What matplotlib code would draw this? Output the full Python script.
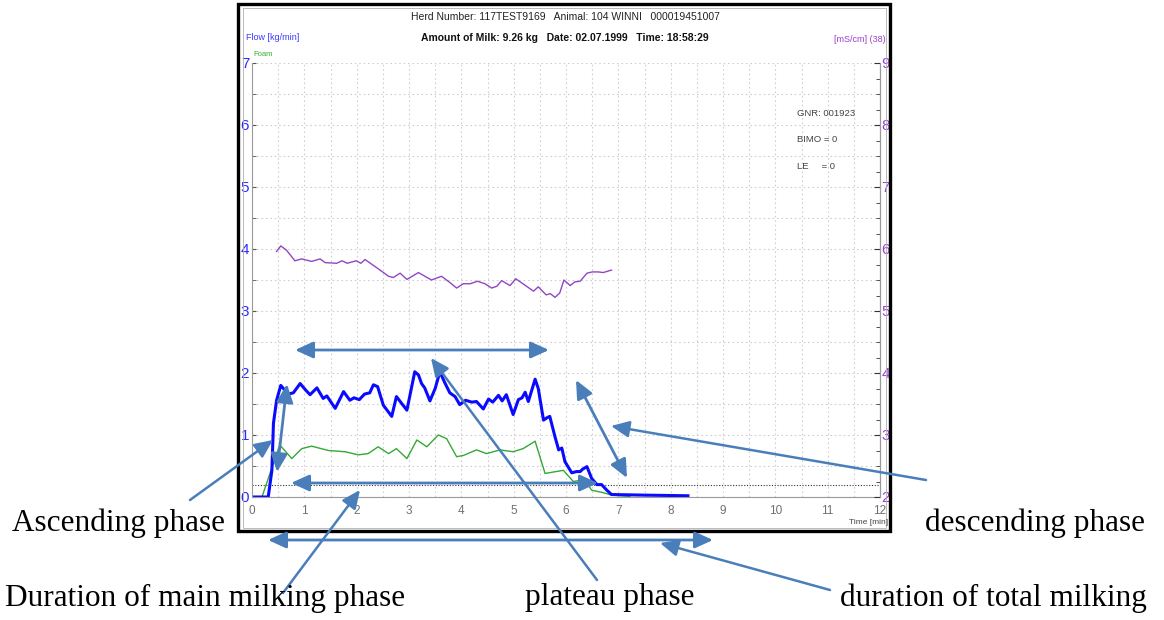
import matplotlib
matplotlib.use('Agg')
import matplotlib.pyplot as plt
from matplotlib.patches import FancyArrowPatch, Rectangle
from matplotlib import font_manager
import numpy as np

# --- data ---
flow_t = [0, 0.31, 0.38, 0.41, 0.47, 0.55, 0.63, 0.69, 0.79, 0.92, 1.03, 1.11, 1.24, 1.36, 1.43,
          1.59, 1.75, 1.87, 1.95, 2.05, 2.15, 2.25, 2.32, 2.40, 2.51, 2.67, 2.76, 2.85, 2.96,
          3.11, 3.18, 3.24, 3.30, 3.40, 3.50, 3.59, 3.68, 3.78, 3.88, 3.97, 4.08, 4.20, 4.29,
          4.42, 4.52, 4.60, 4.71, 4.78, 4.86, 4.99, 5.09, 5.16, 5.22, 5.28, 5.41, 5.47, 5.57,
          5.64, 5.69, 5.79, 5.86, 5.92, 5.98, 6.11, 6.20, 6.27, 6.32, 6.40, 6.49, 6.59, 6.68,
          6.78, 6.87, 7.5, 8.33]
flow_v = [0, 0, 0.43, 1.19, 1.56, 1.80, 1.72, 1.66, 1.68, 1.83, 1.72, 1.65, 1.76, 1.59, 1.63,
          1.43, 1.70, 1.56, 1.60, 1.57, 1.66, 1.68, 1.81, 1.78, 1.48, 1.30, 1.62, 1.52, 1.40,
          2.02, 1.97, 1.83, 1.76, 1.55, 1.75, 2.02, 1.85, 1.68, 1.62, 1.49, 1.56, 1.53, 1.54,
          1.42, 1.58, 1.53, 1.64, 1.55, 1.65, 1.33, 1.57, 1.60, 1.69, 1.54, 1.90, 1.75, 1.24,
          1.28, 1.30, 0.97, 0.76, 0.79, 0.57, 0.39, 0.41, 0.41, 0.45, 0.49, 0.30, 0.20, 0.20,
          0.11, 0.04, 0.03, 0.02]

foam_t = [0.19, 0.53, 0.76, 0.95, 1.14, 1.46, 1.78, 2.03, 2.22, 2.41, 2.61, 2.76, 2.96, 3.15,
          3.34, 3.56, 3.72, 3.91, 4.04, 4.29, 4.48, 4.74, 4.99, 5.18, 5.41, 5.60, 5.95, 6.14,
          6.35, 6.49, 6.71, 6.87, 7.22]
foam_v = [0, 0.84, 0.62, 0.78, 0.82, 0.75, 0.73, 0.68, 0.70, 0.81, 0.70, 0.78, 0.62, 0.92,
          0.81, 1.00, 0.94, 0.65, 0.67, 0.76, 0.70, 0.76, 0.73, 0.78, 0.90, 0.38, 0.43, 0.25,
          0.28, 0.11, 0.07, 0.03, 0.01]

cond_t = [0.47, 0.55, 0.66, 0.82, 0.95, 1.14, 1.30, 1.40, 1.62, 1.72, 1.82, 1.99, 2.08, 2.16,
          2.38, 2.61, 2.70, 2.83, 2.96, 3.18, 3.43, 3.62, 3.78, 3.91, 4.04, 4.17, 4.31, 4.45,
          4.58, 4.68, 4.77, 4.93, 5.04, 5.21, 5.38, 5.47, 5.62, 5.70, 5.79, 5.88, 5.96, 6.08,
          6.17, 6.27, 6.40, 6.50, 6.62, 6.71, 6.87]
cond_v = [5.96, 6.05, 5.98, 5.81, 5.84, 5.80, 5.84, 5.78, 5.77, 5.81, 5.77, 5.81, 5.77, 5.83,
          5.70, 5.56, 5.54, 5.61, 5.51, 5.62, 5.50, 5.56, 5.46, 5.37, 5.44, 5.44, 5.48, 5.44,
          5.37, 5.40, 5.49, 5.41, 5.52, 5.42, 5.32, 5.39, 5.26, 5.28, 5.22, 5.29, 5.50, 5.41,
          5.47, 5.48, 5.61, 5.63, 5.63, 5.62, 5.66]

threshold = 0.2
x_ticks = list(range(0, 13))
y_ticks = list(range(0, 8))
y2_ticks = list(range(2, 10))

header1 = "Herd Number: 117TEST9169   Animal: 104 WINNI   000019451007"
header2 = "Amount of Milk: 9.26 kg   Date: 02.07.1999   Time: 18:58:29"
info_lines = ["GNR: 001923", "BIMO = 0", "LE     = 0"]

# --- fonts ---
names = {f.name for f in font_manager.fontManager.ttflist}
narrow = 'Liberation Sans Narrow' if 'Liberation Sans Narrow' in names else 'Liberation Sans'
serif = 'Liberation Serif'

W, H = 1164, 620
fig = plt.figure(figsize=(W / 100, H / 100), dpi=100)


def fx(px):
    return px / W


def fy(py):
    return 1 - py / H


# outer frame of the screenshot
fig.add_artist(Rectangle((fx(238), fy(531)), fx(890) - fx(238), fy(4) - fy(531),
                         transform=fig.transFigure, fill=False, lw=2.4, ec='black'))
fig.add_artist(Rectangle((fx(243), fy(528)), fx(886) - fx(243), fy(8) - fy(528),
                         transform=fig.transFigure, fill=False, lw=0.6, ec='#b0b0b0'))

ax = fig.add_axes([fx(252), fy(497), fx(880) - fx(252), fy(63) - fy(497)])
ax.set_xlim(0, 12)
ax.set_ylim(0, 7)
ax.set_xticks(x_ticks)
ax.set_xticks(np.arange(0, 12.5, 0.5), minor=True)
ax.set_yticks(y_ticks)
ax.set_yticks(np.arange(0, 7.5, 0.5), minor=True)
ax.grid(which='both', color='#cfcfcf', ls=(0, (1.5, 2.5)), lw=0.8)
ax.set_axisbelow(True)
ax.spines['top'].set_visible(False)
for s in ['left', 'bottom', 'right']:
    ax.spines[s].set_color('#9a9a9a')
ax.tick_params(axis='x', which='both', length=0, pad=6, labelcolor='#707070', labelsize=8.5)
ax.tick_params(axis='y', which='major', direction='in', length=3, pad=2, color='#555555',
               labelcolor='#2b2bff', labelsize=11)
ax.tick_params(axis='y', which='minor', direction='in', length=3, color='#555555')
for lab in ax.get_xticklabels() + ax.get_yticklabels():
    lab.set_family(narrow)

ax.axhline(threshold, color='#333333', ls=(0, (1, 1.5)), lw=0.8)
ax.plot(foam_t, foam_v, color='#34a834', lw=1)
ax.plot(flow_t, flow_v, color='#0a0aff', lw=2.2)

ax2 = ax.twinx()
ax2.set_ylim(2, 9)
ax2.set_yticks(y2_ticks)
ax2.set_yticks(np.arange(2, 9.25, 0.25), minor=True)
for s in ['top', 'left', 'bottom']:
    ax2.spines[s].set_visible(False)
ax2.spines['right'].set_color('#9a9a9a')
ax2.tick_params(axis='y', which='major', direction='in', length=4, pad=1, color='#333333',
                labelcolor='#9a40d0', labelsize=11)
ax2.tick_params(axis='y', which='minor', direction='in', length=3, color='#333333')
for lab in ax2.get_yticklabels():
    lab.set_family(narrow)
ax2.plot(cond_t, cond_v, color='#9146c4', lw=1)

# header texts
fig.text(fx(565), fy(17), header1, ha='center', va='center', family=narrow, fontsize=7.5,
         color='#222222')
fig.text(fx(565), fy(38), header2, ha='center', va='center', family=narrow, fontsize=7.5,
         weight='bold', color='#111111')
fig.text(fx(246), fy(38), "Flow [kg/min]", ha='left', va='center', family=narrow,
         fontsize=6.5, color='#3a3aff')
fig.text(fx(253), fy(55), "Foam", ha='left', va='center', family=narrow, fontsize=5.5,
         color='#30b030')
fig.text(fx(886), fy(40), "[mS/cm] (38)", ha='right', va='center', family=narrow,
         fontsize=6.5, color='#9a40d0')
for i, line in enumerate(info_lines):
    fig.text(fx(797), fy(113 + i * 26.5), line, ha='left', va='center', family=narrow,
             fontsize=6.8, color='#444444')
fig.text(fx(888), fy(522), "Time [min]", ha='right', va='center', family=narrow,
         fontsize=6, color='#444444')

# annotation labels
lab_kw = dict(ha='left', va='center', family=serif, fontsize=22.5, color='black')
fig.text(fx(12), fy(523), "Ascending phase", **lab_kw)
fig.text(fx(925), fy(523), "descending phase", **lab_kw)
fig.text(fx(5), fy(598), "Duration of main milking phase", **lab_kw)
fig.text(fx(525), fy(598), "plateau phase", **lab_kw)
fig.text(fx(840), fy(598), "duration of total milking", **lab_kw)

# annotation arrows (pixel positions on the picture)
arrow_col = '#4a7ebb'
double_arrows = [((295, 350), (549, 350)),
                 ((291, 483), (598, 483)),
                 ((268, 540), (713, 540)),
                 ((287, 384), (277, 472)),
                 ((576, 380), (627, 478))]
pointers = [((190, 500), (273, 440)),
            ((926, 480), (611, 426)),
            ((597, 580), (431, 358)),
            ((283, 593), (360, 490)),
            ((830, 590), (660, 543))]
for (a, b) in double_arrows:
    fig.add_artist(FancyArrowPatch((fx(a[0]), fy(a[1])), (fx(b[0]), fy(b[1])),
                                   transform=fig.transFigure,
                                   arrowstyle='<|-|>,head_length=11,head_width=5',
                                   color=arrow_col, lw=2, shrinkA=0, shrinkB=0))
for (a, b) in pointers:
    fig.add_artist(FancyArrowPatch((fx(a[0]), fy(a[1])), (fx(b[0]), fy(b[1])),
                                   transform=fig.transFigure,
                                   arrowstyle='-|>,head_length=11,head_width=5',
                                   color=arrow_col, lw=1.8, shrinkA=0, shrinkB=0))

plt.savefig('out.png', dpi=100)
